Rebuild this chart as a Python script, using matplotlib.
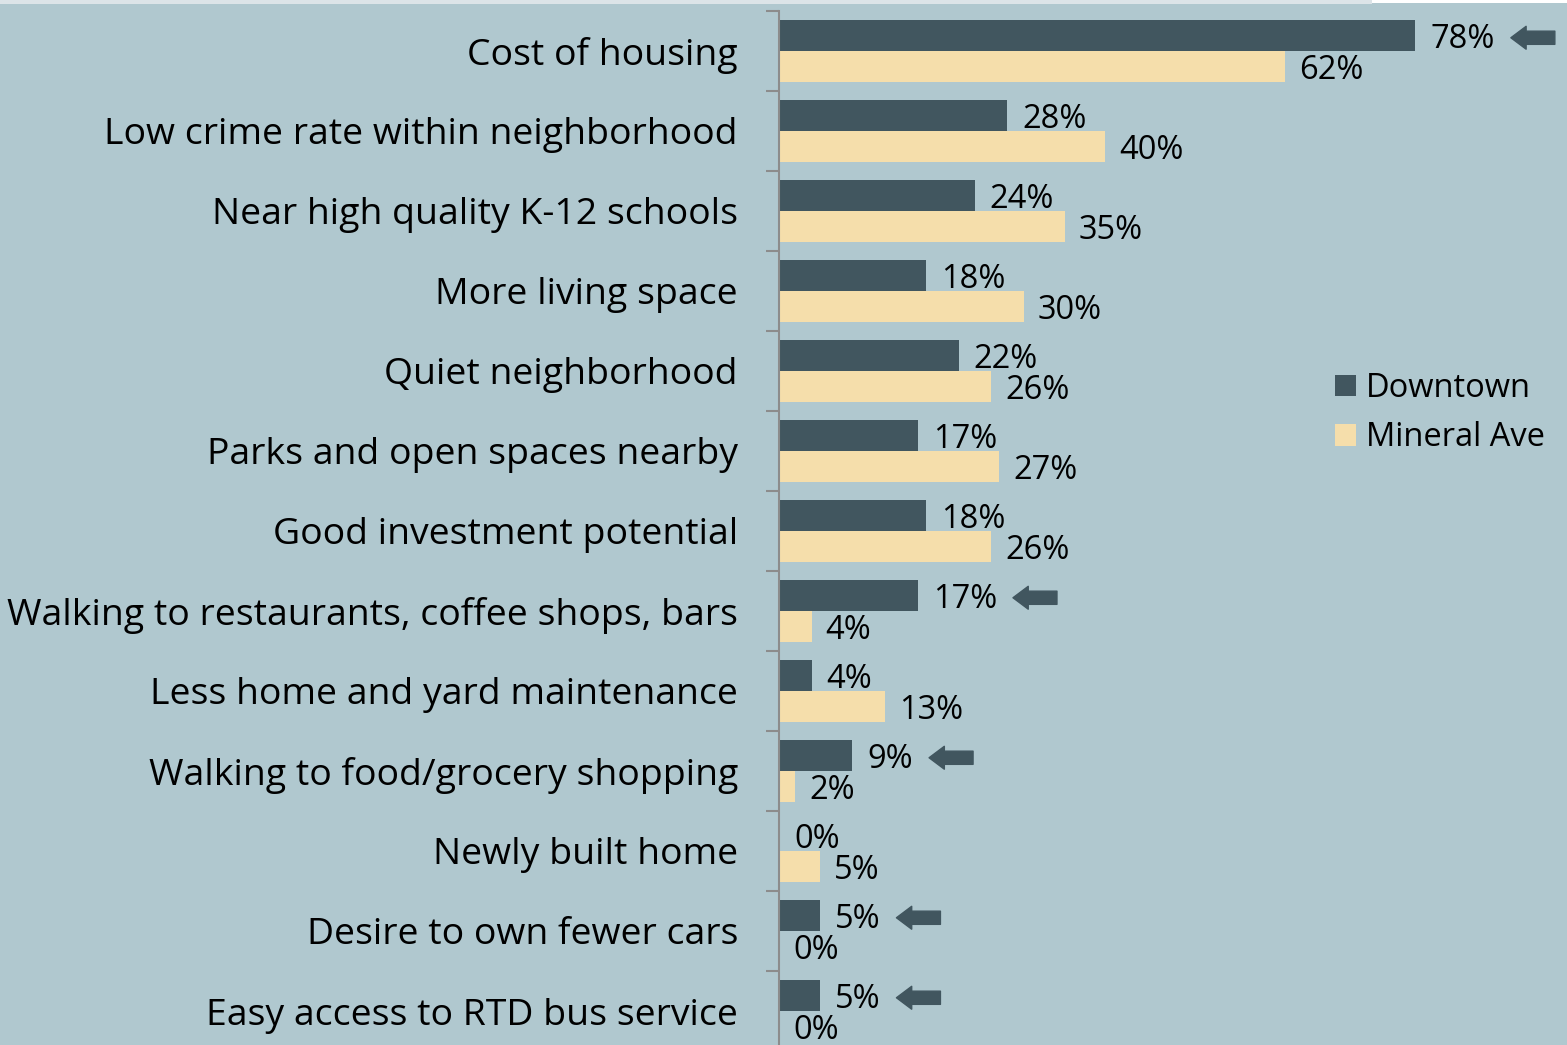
import matplotlib
matplotlib.use("Agg")
import matplotlib.pyplot as plt
from matplotlib.patches import Rectangle

# Survey data
categories = [
    "Cost of housing",
    "Low crime rate within neighborhood",
    "Near high quality K-12 schools",
    "More living space",
    "Quiet neighborhood",
    "Parks and open spaces nearby",
    "Good investment potential",
    "Walking to restaurants, coffee shops, bars",
    "Less home and yard maintenance",
    "Walking to food/grocery shopping",
    "Newly built home",
    "Desire to own fewer cars",
    "Easy access to RTD bus service",
]
downtown = [78, 28, 24, 18, 22, 17, 18, 17, 4, 9, 0, 5, 5]
mineral_ave = [62, 40, 35, 30, 26, 27, 26, 4, 13, 2, 5, 0, 0]
# categories flagged with an arrow next to the Downtown value
flagged = [True, False, False, False, False, False, False, True, False, True, False, True, True]

series_names = ["Downtown", "Mineral Ave"]

bg = "#B0C8CF"
c_down = "#41565F"
c_min = "#F5DEAB"
axis_gray = "#8C8C8C"
font = "Open Sans"
fs_cat = 26.9
fs_val = 23.5

plt.rcParams['font.family'] = [font, 'DejaVu Sans']

fig = plt.figure(figsize=(15.67, 10.45), dpi=100, facecolor=bg)
ax = fig.add_axes([779/1567, 1 - 1051/1045, 1 - 779/1567, 1040/1045])
ax.set_facecolor(bg)

# thin strip along the top edge
fig.patches.append(Rectangle((0, 1 - 4/1045), 1372/1567, 4/1045, transform=fig.transFigure,
                             facecolor="#DCE4E8", edgecolor="none", zorder=5))
fig.patches.append(Rectangle((1372/1567, 1 - 3/1045), 1 - 1372/1567, 3/1045, transform=fig.transFigure,
                             facecolor="white", edgecolor="none", zorder=5))

pos = list(range(len(categories)))
h = 0.39
off = 0.195
y_down = [p - off for p in pos]
y_min = [p + off for p in pos]

ax.barh(y_down, downtown, height=h, color=c_down, label=series_names[0])
ax.barh(y_min, mineral_ave, height=h, color=c_min, label=series_names[1])

px = 72 / 100  # points per pixel
for i in pos:
    t = ax.annotate("%d%%" % downtown[i], xy=(downtown[i], y_down[i]), xytext=(15 * px, -4 * px),
                    textcoords="offset points", va="center", ha="left", fontsize=fs_val)
    ax.annotate("%d%%" % mineral_ave[i], xy=(mineral_ave[i], y_min[i]), xytext=(14 * px, -3.5 * px),
                textcoords="offset points", va="center", ha="left", fontsize=fs_val)
    if flagged[i]:
        ax.annotate("", xy=(1, 0.55), xycoords=t, xytext=(60 * px, 0), textcoords="offset points",
                    arrowprops=dict(arrowstyle="simple,head_length=1.1,head_width=1.65,tail_width=0.95",
                                    mutation_scale=10, color=c_down, shrinkA=0, shrinkB=16 * px,
                                    joinstyle="round", capstyle="round"))

ax.set_xlim(0, (1567 - 779) / 8.16)
ax.set_ylim(len(categories) - 0.5, -0.5)

ax.set_yticks([p - 0.5 for p in pos] + [len(categories) - 0.5])
ax.set_yticklabels([])
ax.set_yticks(pos, minor=True)
ax.set_yticklabels(categories, minor=True, fontsize=fs_cat)
ax.tick_params(axis="y", which="major", length=13 * px, width=1.5, color=axis_gray, direction="out")
ax.tick_params(axis="y", which="minor", length=0, pad=41 * px)
ax.set_xticks([])

for s in ["top", "right", "bottom"]:
    ax.spines[s].set_visible(False)
ax.spines["left"].set_color(axis_gray)
ax.spines["left"].set_linewidth(1.5)

leg = fig.legend(loc="upper left", bbox_to_anchor=(1335/1567, 1 - 372/1045), frameon=False,
                 fontsize=fs_val, handlelength=0.64, handleheight=0.64, handletextpad=0.3,
                 labelspacing=0.5, borderaxespad=0, borderpad=0)

fig.savefig("out.png", dpi=100, facecolor=bg)
